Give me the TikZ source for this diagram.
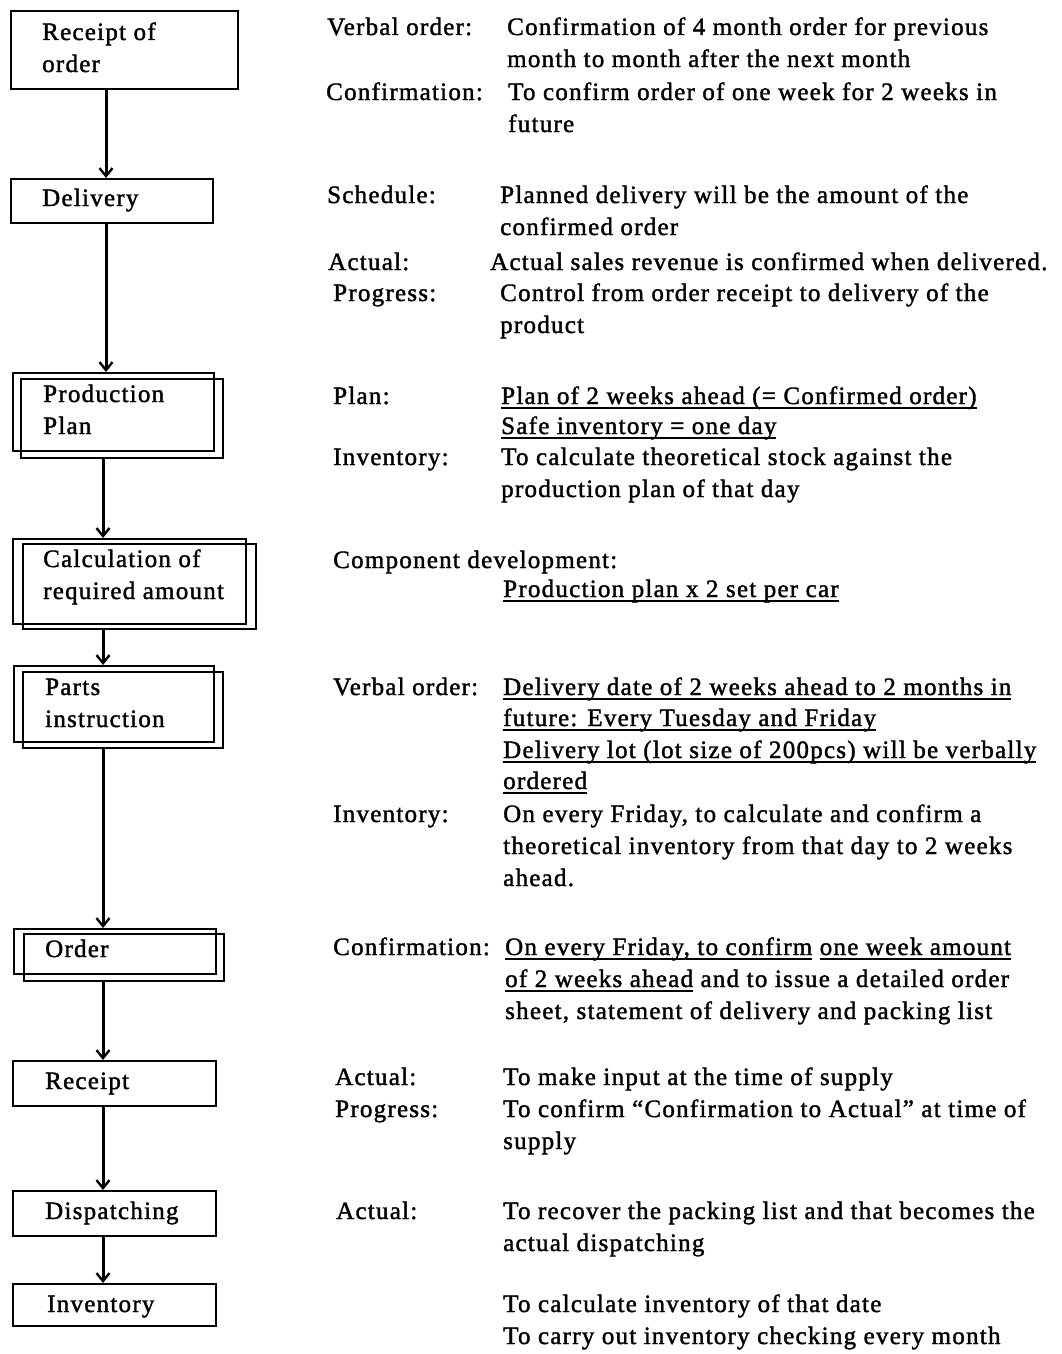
\documentclass[tikz,border=0pt]{standalone}
\usepackage{fontspec}
\setmainfont{Liberation Serif}[LetterSpace=5, FakeBold=1.5]
\usetikzlibrary{arrows.meta}
% underline drawn at a fixed depth below the baseline
\newcommand\undl[1]{\setbox0\hbox{#1}\rlap{\rule[-4.5pt]{\wd0}{1.4pt}}\box0\relax}
\begin{document}
\begin{tikzpicture}[x=1pt,y=-1pt,
  box/.style={draw, line width=2pt, anchor=north west, inner sep=0pt},
  txt/.style={anchor=base west, inner sep=0pt, font=\fontsize{25}{32}\selectfont},
  flow/.style={line width=3pt, -{Straight Barb[length=8pt,width=13pt,line width=2.4pt]}},
]
\useasboundingbox (0,0) rectangle (1061,1354);
\fill[white] (0,0) rectangle (1061,1354);

% ---- process boxes ----
\node[box, minimum width=227pt, minimum height=78pt] (rec) at (10,10) {};
\node[box, minimum width=202pt, minimum height=44pt] (del) at (10,178) {};
\node[box, minimum width=201pt, minimum height=78pt] (prod) at (12,372) {};
\node[box, minimum width=202pt, minimum height=79pt] (prodB) at (20,378) {};
\node[box, minimum width=233pt, minimum height=85pt] (calc) at (12,538) {};
\node[box, minimum width=233pt, minimum height=85pt] (calcB) at (22,543) {};
\node[box, minimum width=200pt, minimum height=76pt] (parts) at (13,665) {};
\node[box, minimum width=200pt, minimum height=76pt] (partsB) at (22,671) {};
\node[box, minimum width=202pt, minimum height=45pt] (ord) at (13,928) {};
\node[box, minimum width=200pt, minimum height=47pt] (ordB) at (23,933) {};
\node[box, minimum width=203pt, minimum height=45pt] (rcpt) at (12,1060) {};
\node[box, minimum width=203pt, minimum height=45pt] (disp) at (12,1190) {};
\node[box, minimum width=203pt, minimum height=42pt] (inv) at (12,1283) {};

% ---- box labels ----
\node[txt] (recT1) at (42,40) {Receipt of};
\node[txt] (recT2) at (42,72) {order};
\node[txt] (delT) at (42,206) {Delivery};
\node[txt] (prodT1) at (43,402) {Production};
\node[txt] (prodT2) at (43,434) {Plan};
\node[txt] (calcT1) at (43,567) {Calculation of};
\node[txt] (calcT2) at (43,599) {required amount};
\node[txt] (partsT1) at (45,695) {Parts};
\node[txt] (partsT2) at (45,727) {instruction};
\node[txt] (ordT) at (45,957) {Order};
\node[txt] (rcptT) at (45,1089) {Receipt};
\node[txt] (dispT) at (45,1219) {Dispatching};
\node[txt] (invT) at (47,1312) {Inventory};

% ---- flow arrows ----
\coordinate (axA) at (106,0);
\coordinate (axB) at (103,0);
\draw[flow] (rec.south -| axA) -- (del.north -| axA);
\draw[flow] (del.south -| axA) -- (prod.north -| axA);
\draw[flow] (prodB.south -| axB) -- (calc.north -| axB);
\draw[flow] (calcB.south -| axB) -- (parts.north -| axB);
\draw[flow] (partsB.south -| axB) -- (ord.north -| axB);
\draw[flow] (ordB.south -| axB) -- (rcpt.north -| axB);
\draw[flow] (rcpt.south -| axB) -- (disp.north -| axB);
\draw[flow] (disp.south -| axB) -- (inv.north -| axB);

% ---- descriptions: receipt of order ----
\node[txt] (l1a) at (327,35) {Verbal order:};
\node[txt] (d1a) at (507,35) {Confirmation of 4 month order for previous};
\node[txt] (d1b) at (507,67) {month to month after the next month};
\node[txt] (l1b) at (326,100) {Confirmation:};
\node[txt] (d1c) at (508,100) {To confirm order of one week for 2 weeks in};
\node[txt] (d1d) at (508,132) {future};

% ---- delivery ----
\node[txt] (l2a) at (327,203) {Schedule:};
\node[txt] (d2a) at (500,203) {Planned delivery will be the amount of the};
\node[txt] (d2b) at (500,235) {confirmed order};
\node[txt] (l2b) at (328,270) {Actual:};
\node[txt] (d2c) at (490,270) {Actual sales revenue is confirmed when delivered.};
\node[txt] (l2c) at (333,301) {Progress:};
\node[txt] (d2d) at (500,301) {Control from order receipt to delivery of the};
\node[txt] (d2e) at (500,333) {product};

% ---- production plan ----
\node[txt] (l3a) at (333,404) {Plan:};
\node[txt] (d3a) at (501,404) {\undl{Plan of 2 weeks ahead (= Confirmed order)}};
\node[txt] (d3b) at (501,434) {\undl{Safe inventory = one day}};
\node[txt] (l3b) at (333,465) {Inventory:};
\node[txt] (d3c) at (501,465) {To calculate theoretical stock against the};
\node[txt] (d3d) at (501,497) {production plan of that day};

% ---- calculation of required amount ----
\node[txt] (l4a) at (333,568) {Component development:};
\node[txt] (d4a) at (503,597) {\undl{Production plan x 2 set per car}};

% ---- parts instruction ----
\node[txt] (l5a) at (333,695) {Verbal order:};
\node[txt] (d5a) at (503,695) {\undl{Delivery date of 2 weeks ahead to 2 months in}};
\node[txt] (d5b) at (503,726) {\undl{future: Every Tuesday and Friday}};
\node[txt] (d5c) at (503,758) {\undl{Delivery lot (lot size of 200pcs) will be verbally}};
\node[txt] (d5d) at (503,789) {\undl{ordered}};
\node[txt] (l5b) at (333,822) {Inventory:};
\node[txt] (d5e) at (503,822) {On every Friday, to calculate and confirm a};
\node[txt] (d5f) at (503,854) {theoretical inventory from that day to 2 weeks};
\node[txt] (d5g) at (503,886) {ahead.};

% ---- order ----
\node[txt] (l6a) at (333,955) {Confirmation:};
\node[txt] (d6a) at (505,955) {\undl{On every Friday, to confirm} \undl{one week amount}};
\node[txt] (d6b) at (505,987) {\undl{of 2 weeks ahead} and to issue a detailed order};
\node[txt] (d6c) at (505,1019) {sheet, statement of delivery and packing list};

% ---- receipt ----
\node[txt] (l7a) at (335,1085) {Actual:};
\node[txt] (d7a) at (503,1085) {To make input at the time of supply};
\node[txt] (l7b) at (335,1117) {Progress:};
\node[txt] (d7b) at (503,1117) {To confirm “Confirmation to Actual” at time of};
\node[txt] (d7c) at (503,1149) {supply};

% ---- dispatching ----
\node[txt] (l8a) at (336,1219) {Actual:};
\node[txt] (d8a) at (503,1219) {To recover the packing list and that becomes the};
\node[txt] (d8b) at (503,1251) {actual dispatching};

% ---- inventory ----
\node[txt] (d9a) at (503,1312) {To calculate inventory of that date};
\node[txt] (d9b) at (503,1344) {To carry out inventory checking every month};
\end{tikzpicture}
\end{document}
